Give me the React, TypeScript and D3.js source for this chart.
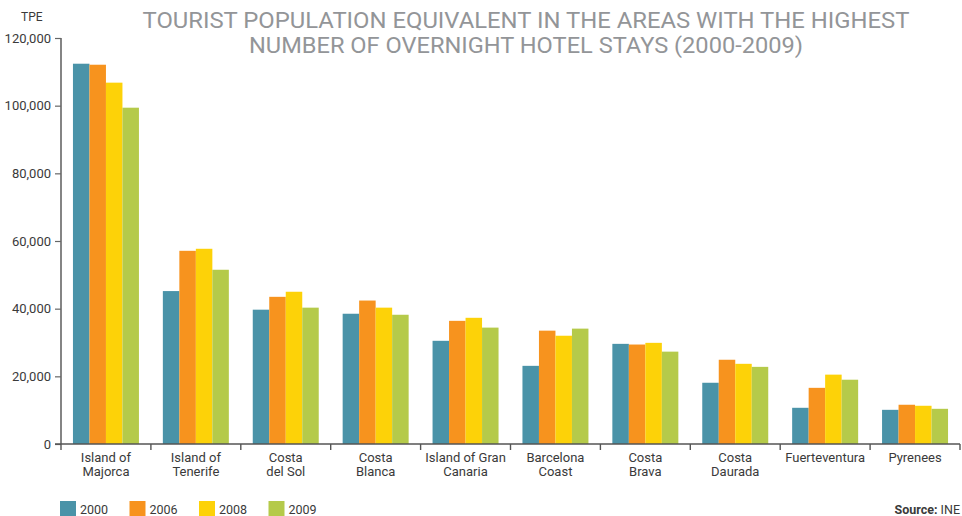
import { useEffect, useRef } from "react";
import * as d3 from "d3";

const categories = [
  "Island of|Majorca",
  "Island of|Tenerife",
  "Costa|del Sol",
  "Costa|Blanca",
  "Island of Gran|Canaria",
  "Barcelona|Coast",
  "Costa|Brava",
  "Costa|Daurada",
  "Fuerteventura",
  "Pyrenees",
];
const years = ["2000", "2006", "2008", "2009"];
const v2000 = [112400, 45200, 39700, 38500, 30500, 23100, 29600, 18100, 10700, 10100];
const v2006 = [112100, 57100, 43500, 42400, 36400, 33500, 29400, 24900, 16600, 11600];
const v2008 = [106800, 57700, 45000, 40300, 37300, 32000, 29900, 23700, 20500, 11300];
const v2009 = [99400, 51500, 40300, 38200, 34400, 34100, 27300, 22800, 19000, 10400];
const yTicks = [0, 20000, 40000, 60000, 80000, 100000, 120000];
const colors = ["#4a93a8", "#f7931e", "#fdd208", "#b5ca4a"];

const FONT = "Roboto, 'DejaVu Sans', sans-serif";

export default function App() {
  const ref = useRef<SVGSVGElement>(null);
  useEffect(() => {
    document.body.style.margin = "0";
    if (!ref.current) return;
    const svg = d3.select(ref.current);
    svg.selectAll("*").remove();
    const W = 962, H = 516;
    const m = { t: 38, r: 2, b: 72, l: 61 };
    const series = [v2000, v2006, v2008, v2009];

    const x = d3.scaleBand<string>()
      .domain(categories)
      .range([m.l, W - m.r])
      .paddingInner(0.266)
      .paddingOuter(0.133);
    const x1 = d3.scaleBand<string>().domain(years).range([0, x.bandwidth()]);
    const y = d3.scaleLinear().domain([0, 120000]).range([H - m.b, m.t]);

    // title
    const title = svg.append("text")
      .attr("x", 526).attr("text-anchor", "middle")
      .attr("font-family", FONT).attr("font-weight", 400)
      .attr("font-size", 22).attr("fill", "#939598");
    title.append("tspan").attr("x", 526).attr("y", 28)
      .attr("textLength", 767).attr("lengthAdjust", "spacingAndGlyphs")
      .text("TOURIST POPULATION EQUIVALENT IN THE AREAS WITH THE HIGHEST");
    title.append("tspan").attr("x", 526).attr("y", 53)
      .attr("textLength", 554).attr("lengthAdjust", "spacingAndGlyphs")
      .text("NUMBER OF OVERNIGHT HOTEL STAYS (2000-2009)");

    // bars
    categories.forEach((c, i) => {
      years.forEach((yr, j) => {
        const v = series[j][i];
        svg.append("rect")
          .attr("x", x(c)! + x1(yr)!)
          .attr("width", x1.bandwidth())
          .attr("y", y(v))
          .attr("height", y(0) - y(v))
          .attr("fill", colors[j]);
      });
    });

    // y axis
    svg.append("g")
      .attr("transform", `translate(${m.l},0)`)
      .call(d3.axisLeft(y).tickValues(yTicks).tickSize(6).tickPadding(4).tickFormat((d) => d3.format(",")(+d)))
      .call((g) => g.selectAll("text").attr("font-family", FONT).attr("font-size", 13).attr("fill", "#3a3a3a"))
      .call((g) => g.selectAll("line").attr("stroke", "#666").attr("stroke-width", 1.2))
      .call((g) => g.select(".domain").attr("stroke", "#666").attr("stroke-width", 1.6).attr("d", `M0,${y(0)}V${m.t}`));

    svg.append("text").attr("x", 21).attr("y", 21)
      .attr("font-family", FONT).attr("font-size", 12).attr("fill", "#3a3a3a").text("TPE");

    // x axis
    const base = svg.append("g");
    base.append("line")
      .attr("x1", m.l - 6).attr("x2", W - m.r)
      .attr("y1", y(0)).attr("y2", y(0))
      .attr("stroke", "#555").attr("stroke-width", 1.6);
    const step = x.step();
    d3.range(categories.length + 1).forEach((k) => {
      const tx = m.l + k * step;
      base.append("line")
        .attr("x1", tx).attr("x2", tx)
        .attr("y1", y(0)).attr("y2", y(0) + 6)
        .attr("stroke", "#555").attr("stroke-width", 1.4);
    });
    categories.forEach((c) => {
      const cx = x(c)! + x.bandwidth() / 2;
      const t = svg.append("text")
        .attr("text-anchor", "middle")
        .attr("font-family", FONT).attr("font-size", 13).attr("fill", "#3a3a3a");
      c.split("|").forEach((line, li) => {
        t.append("tspan").attr("x", cx).attr("y", y(0) + 18 + li * 14).text(line);
      });
    });

    // legend
    years.forEach((yr, j) => {
      const lx = 60 + j * 69.5;
      svg.append("rect").attr("x", lx).attr("y", 501).attr("width", 16).attr("height", 15).attr("fill", colors[j]);
      svg.append("text").attr("x", lx + 20).attr("y", 514)
        .attr("font-family", FONT).attr("font-size", 12.5).attr("fill", "#3a3a3a").text(yr);
    });

    const src = svg.append("text").attr("x", 960).attr("y", 514).attr("text-anchor", "end")
      .attr("font-family", FONT).attr("font-size", 12.5).attr("fill", "#3a3a3a");
    src.append("tspan").attr("font-weight", 700).text("Source: ");
    src.append("tspan").text("INE");
  }, []);
  return <svg ref={ref} width={962} height={516} style={{ display: "block" }} />;
}
